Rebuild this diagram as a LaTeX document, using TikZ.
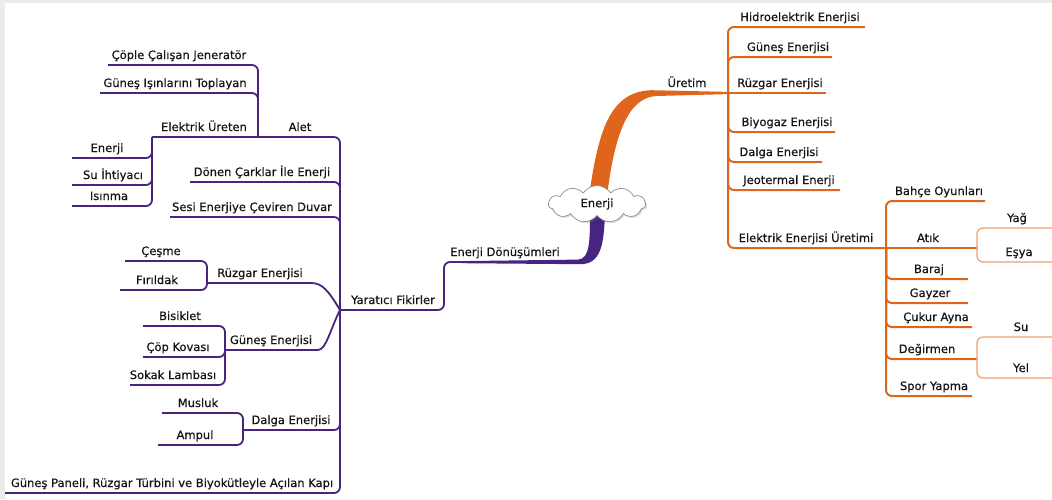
\documentclass[tikz,border=0pt]{standalone}
\usepackage{fontspec}
\setmainfont{DejaVu Sans}[FakeBold=0.5]
\usetikzlibrary{shapes.symbols,shadows}
\definecolor{mmpurple}{HTML}{46247F}
\definecolor{mmorange}{HTML}{E0651C}
\definecolor{mmorangelt}{HTML}{E9A070}
\definecolor{mmtext}{HTML}{141414}

% label of a branch: name, text x, underline y, underline from x, to x, text
\newcommand\mmleaf[6]{%
  \node[lbl] (#1) at (#2,#3-6) {#6};
  \coordinate (#1-a) at (#4,#3);
  \coordinate (#1-b) at (#5,#3);}

\begin{document}
\begin{tikzpicture}[x=1pt,y=-1pt,
  lbl/.style={font=\fontsize{11.5}{13}\selectfont, anchor=base, inner sep=0pt, text=mmtext},
  pl/.style={draw=mmpurple, line width=1.8pt, rounded corners=6pt},
  ol/.style={draw=mmorange, line width=2pt, rounded corners=6pt},
  olt/.style={draw=mmorangelt, line width=1.2pt, rounded corners=6pt}]
\useasboundingbox (0,0) rectangle (1052,499);
\fill[black!8] (0,0) rectangle (1052,3);
\fill[black!8] (0,0) rectangle (5,499);

% ---------- left half: Enerji Dönüşümleri ----------
\mmleaf{cople}{179}{65}{108}{252}{Çöple Çalışan Jeneratör}
\mmleaf{isin}{175}{93}{100}{252}{Güneş Işınlarını Toplayan}
\mmleaf{elek}{204}{137}{152}{258}{Elektrik Üreten}
\mmleaf{alet}{300}{137}{258}{340}{Alet}
\mmleaf{enerjiL}{107}{158}{72}{150}{Enerji}
\mmleaf{su}{113}{185}{72}{150}{Su İhtiyacı}
\mmleaf{isinma}{109}{206}{72}{150}{Isınma}
\mmleaf{donen}{262}{182}{190}{340}{Dönen Çarklar İle Enerji}
\mmleaf{sesi}{252}{217}{170}{340}{Sesi Enerjiye Çeviren Duvar}
\mmleaf{cesme}{161}{261}{125}{207}{Çeşme}
\mmleaf{firil}{157}{290}{120}{207}{Fırıldak}
\mmleaf{ruzL}{260}{283}{207}{305}{Rüzgar Enerjisi}
\mmleaf{yar}{393}{310}{340}{444}{Yaratıcı Fikirler}
\mmleaf{donus}{505}{262}{444}{590}{Enerji Dönüşümleri}
\mmleaf{bisik}{180}{326}{143}{225}{Bisiklet}
\mmleaf{gunL}{271}{350}{225}{312}{Güneş Enerjisi}
\mmleaf{copk}{178}{357}{143}{225}{Çöp Kovası}
\mmleaf{sokak}{173}{385}{130}{225}{Sokak Lambası}
\mmleaf{musluk}{198}{413}{162}{243}{Musluk}
\mmleaf{dalgaL}{291}{430}{243}{340}{Dalga Enerjisi}
\mmleaf{ampul}{195}{445}{158}{243}{Ampul}
\mmleaf{panel}{172}{493}{5}{340}{Güneş Paneli, Rüzgar Türbini ve Biyokütleyle Açılan Kapı}

\draw[pl] (yar-a) |- (alet-a);
\draw[pl] (alet-a) -- (elek-a);
\draw[pl] (alet-a) |- (isin-a);
\draw[pl] (alet-a) |- (cople-a);
\draw[pl] (elek-a) |- (enerjiL-a);
\draw[pl] (elek-a) |- (su-a);
\draw[pl] (elek-a) |- (isinma-a);
\draw[pl] (yar-a) |- (donen-a);
\draw[pl] (yar-a) |- (sesi-a);
\draw[pl] (yar-a) .. controls (328,290) and (322,283) .. (ruzL-b) -- (ruzL-a);
\draw[pl] (ruzL-a) |- (cesme-a);
\draw[pl] (ruzL-a) |- (firil-a);
\draw[pl] (yar-a) .. controls (330,330) and (326,350) .. (gunL-b) -- (gunL-a);
\draw[pl] (gunL-a) |- (bisik-a);
\draw[pl] (gunL-a) |- (copk-a);
\draw[pl] (gunL-a) |- (sokak-a);
\draw[pl] (yar-a) |- (dalgaL-a);
\draw[pl] (dalgaL-a) |- (musluk-a);
\draw[pl] (dalgaL-a) |- (ampul-a);
\draw[pl] (yar-a) |- (panel-a);
\draw[pl] (yar-a) -| (donus-a) -- ++(24,0);

% tapered stem from the centre down to Enerji Dönüşümleri
\fill[mmpurple] (462,261.1) -- (578,259.6) .. controls (590,259) and (590,240) .. (590,212)
  -- (605,212) .. controls (604,245) and (601,264.2) .. (580,264.2) -- (462,263.2) -- cycle;

% ---------- right half: Üretim ----------
\mmleaf{uretim}{687}{93}{650}{728}{Üretim}
\mmleaf{hidro}{800}{27}{728}{865}{Hidroelektrik Enerjisi}
\mmleaf{gunR}{788}{57}{728}{832}{Güneş Enerjisi}
\mmleaf{ruzR}{780}{93}{728}{826}{Rüzgar Enerjisi}
\mmleaf{biyo}{787}{132}{728}{835}{Biyogaz Enerjisi}
\mmleaf{dalgaR}{779}{162}{728}{822}{Dalga Enerjisi}
\mmleaf{jeo}{789}{190}{728}{840}{Jeotermal Enerji}
\mmleaf{eeu}{806}{248}{728}{886}{Elektrik Enerjisi Üretimi}
\mmleaf{bahce}{939}{201}{886}{985}{Bahçe Oyunları}
\mmleaf{atik}{928}{248}{886}{977}{Atık}
\mmleaf{yag}{1017}{228}{977}{1052}{Yağ}
\mmleaf{esya}{1019}{262}{977}{1052}{Eşya}
\mmleaf{baraj}{929}{279}{886}{968}{Baraj}
\mmleaf{gayzer}{930}{303}{886}{968}{Gayzer}
\mmleaf{cukur}{936}{327}{886}{972}{Çukur Ayna}
\mmleaf{degir}{927}{359}{886}{977}{Değirmen}
\mmleaf{su2}{1021}{337}{977}{1052}{Su}
\mmleaf{yel}{1021}{378}{977}{1052}{Yel}
\mmleaf{spor}{934}{396}{886}{972}{Spor Yapma}

\draw[ol] (uretim-b) |- (hidro-b);
\draw[ol] (uretim-b) |- (gunR-b);
\draw[ol] (uretim-b) -- (ruzR-b);
\draw[ol] (uretim-b) |- (biyo-b);
\draw[ol] (uretim-b) |- (dalgaR-b);
\draw[ol] (uretim-b) |- (jeo-b);
\draw[ol] (uretim-b) |- (eeu-b);
\draw[ol] (eeu-b) |- (bahce-b);
\draw[ol] (eeu-b) -- (atik-b);
\draw[ol] (eeu-b) |- (baraj-b);
\draw[ol] (eeu-b) |- (gayzer-b);
\draw[ol] (eeu-b) |- (cukur-b);
\draw[ol] (eeu-b) |- (degir-b);
\draw[ol] (eeu-b) |- (spor-b);
\draw[olt] (atik-b) |- (yag-b);
\draw[olt] (atik-b) |- (esya-b);
\draw[olt] (degir-b) |- (su2-b);
\draw[olt] (degir-b) |- (yel-b);

% tapered stem from the centre up to Üretim
\fill[mmorange] (589,196) .. controls (598,135) and (608,91) .. (652,90.2) -- (728,91.9)
  -- (728,94.1) -- (656,96) .. controls (626,98) and (614,140) .. (607,196) -- cycle;

% ---------- centre ----------
\node[cloud, cloud puffs=11, cloud puff arc=115, cloud ignores aspect, draw=black!50, fill=white,
  minimum width=97pt, minimum height=37pt, inner sep=1pt, line width=0.6pt,
  drop shadow={shadow xshift=1.5pt, shadow yshift=-1.5pt, opacity=0.25},
  font=\fontsize{11.5}{13}\selectfont, text=mmtext] (enerji) at (597,204) {Enerji};
\end{tikzpicture}
\end{document}
